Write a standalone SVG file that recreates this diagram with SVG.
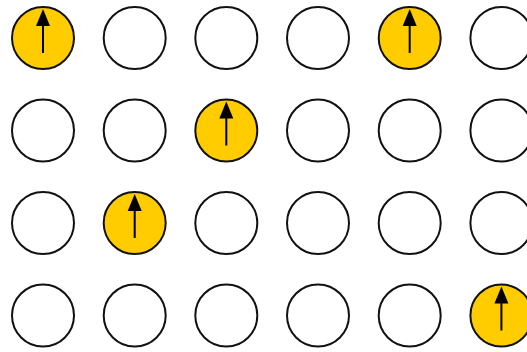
<svg xmlns="http://www.w3.org/2000/svg" width="527" height="352" viewBox="0 0 527 352">
<style>
.c{fill:#fff;stroke:#111;stroke-width:2}
.on{fill:#ffcc00}
.a{stroke:#000;stroke-width:2;fill:none}
.h{fill:#000}
</style>
<defs>
<g id="arr"><line class="a" x1="0" y1="15" x2="0" y2="-20"/><polygon class="h" points="0,-29 -7,-12 7,-12"/></g>
</defs>
<rect width="527" height="352" fill="#fff"/>
<g id="r1">
<g id="n1_1"><circle class="c on" cx="43" cy="38" r="31"/><use href="#arr" x="43" y="38"/></g>
<g id="n1_2"><circle class="c" cx="134.7" cy="38" r="31"/></g>
<g id="n1_3"><circle class="c" cx="226.3" cy="38" r="31"/></g>
<g id="n1_4"><circle class="c" cx="318" cy="38" r="31"/></g>
<g id="n1_5"><circle class="c on" cx="409.7" cy="38" r="31"/><use href="#arr" x="409.7" y="38"/></g>
<g id="n1_6"><circle class="c" cx="501.4" cy="38" r="31"/></g>
</g>
<g id="r2">
<g id="n2_1"><circle class="c" cx="43" cy="130.5" r="31"/></g>
<g id="n2_2"><circle class="c" cx="134.7" cy="130.5" r="31"/></g>
<g id="n2_3"><circle class="c on" cx="226.3" cy="130.5" r="31"/><use href="#arr" x="226.3" y="130.5"/></g>
<g id="n2_4"><circle class="c" cx="318" cy="130.5" r="31"/></g>
<g id="n2_5"><circle class="c" cx="409.7" cy="130.5" r="31"/></g>
<g id="n2_6"><circle class="c" cx="501.4" cy="130.5" r="31"/></g>
</g>
<g id="r3">
<g id="n3_1"><circle class="c" cx="43" cy="223" r="31"/></g>
<g id="n3_2"><circle class="c on" cx="134.7" cy="223" r="31"/><use href="#arr" x="134.7" y="223"/></g>
<g id="n3_3"><circle class="c" cx="226.3" cy="223" r="31"/></g>
<g id="n3_4"><circle class="c" cx="318" cy="223" r="31"/></g>
<g id="n3_5"><circle class="c" cx="409.7" cy="223" r="31"/></g>
<g id="n3_6"><circle class="c" cx="501.4" cy="223" r="31"/></g>
</g>
<g id="r4">
<g id="n4_1"><circle class="c" cx="43" cy="315.5" r="31"/></g>
<g id="n4_2"><circle class="c" cx="134.7" cy="315.5" r="31"/></g>
<g id="n4_3"><circle class="c" cx="226.3" cy="315.5" r="31"/></g>
<g id="n4_4"><circle class="c" cx="318" cy="315.5" r="31"/></g>
<g id="n4_5"><circle class="c" cx="409.7" cy="315.5" r="31"/></g>
<g id="n4_6"><circle class="c on" cx="501.4" cy="315.5" r="31"/><use href="#arr" x="501.4" y="315.5"/></g>
</g>
<g id="connectors"></g>
</svg>
